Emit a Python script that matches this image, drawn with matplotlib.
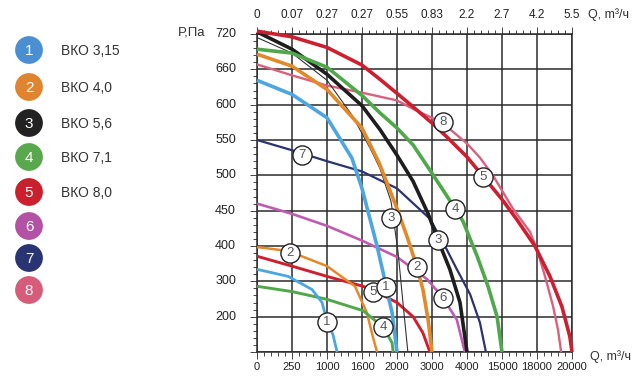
import matplotlib
matplotlib.use("Agg")
from matplotlib import pyplot as plt

# grid units: one cell of the chart = 1 (the axis is not linear, labels are per gridline)
x_labels = ['0', '250', '1000', '1600', '2000', '3000', '4000', '15000', '18000', '20000']
top_labels = ['0', '0.07', '0.27', '0.27', '0.55', '0.83', '2.2', '2.7', '4.2', '5.5']
y_labels = ['200', '300', '400', '450', '500', '550', '600', '660', '720']

legend_names = ['ВКО 3,15', 'ВКО 4,0', 'ВКО 5,6', 'ВКО 7,1', 'ВКО 8,0', '', '', '']
legend_colors = ['#4a8fd1', '#df8530', '#222222', '#5aa84e', '#c8202c', '#b352a4', '#283572', '#d65c7a']

# curves (grid units)
q1 = [0, 1, 2, 2.71, 3, 3.14, 3.43, 3.6, 3.69, 3.86, 4.0]
p1 = [7.69, 7.29, 6.63, 5.49, 4.63, 4.1, 3.0, 2.26, 1.83, 1.11, 0]
q1b = [0, 0.89, 1.57, 1.86, 2.0, 2.17, 2.29]
p1b = [2.34, 2.14, 1.77, 1.4, 0.86, 0.49, 0]
q2 = [0, 1, 2, 3, 3.49, 4, 4.31, 4.57, 4.74, 4.89, 5.0]
p2 = [8.43, 8.09, 7.43, 6.34, 5.35, 4.06, 3.2, 2.4, 1.77, 0.91, 0]
q2b = [0, 0.89, 2, 2.8, 3.14, 3.31, 3.43]
p2b = [2.97, 2.86, 2.43, 1.86, 1.11, 0.43, 0]
q3 = [0, 1, 2, 3, 3.51, 4, 4.46, 4.89, 5.17, 5.51, 5.8, 6.0]
p3 = [9.06, 8.57, 7.86, 6.97, 6.3, 5.57, 4.83, 3.91, 3.17, 2.34, 1.4, 0]
q3b = [0, 1, 2, 2.71, 3.23, 3.51, 3.83, 4.03, 4.17, 4.31]
p3b = [8.9, 8.46, 7.69, 6.71, 5.77, 5.2, 4.26, 2.83, 1.4, 0]
q4 = [0, 1, 2, 3, 3.51, 4, 4.46, 5, 5.66, 5.89, 6.29, 6.6, 6.86, 7.0]
p4 = [8.57, 8.46, 8.06, 7.26, 6.77, 6.34, 5.86, 5.06, 4.06, 3.69, 2.71, 1.86, 1.0, 0]
q4b = [0, 1, 2, 3.03, 3.6, 3.86, 3.89]
p4b = [1.86, 1.71, 1.49, 1.17, 0.71, 0.26, 0]
q5 = [0, 1, 2, 3, 3.51, 4, 4.46, 5, 5.43, 6, 6.46, 7, 7.43, 7.94, 8.37, 8.71, 8.94, 9.0]
p5 = [9.08, 8.92, 8.62, 8.12, 7.72, 7.32, 6.94, 6.48, 6.08, 5.52, 4.97, 4.32, 3.74, 3.0, 2.14, 1.29, 0.43, 0]
q5b = [0, 1, 2, 3.03, 3.43, 4, 4.46, 4.74, 4.94]
p5b = [2.71, 2.43, 2.14, 1.86, 1.69, 1.4, 1.0, 0.54, 0]
q6 = [0, 1, 2, 3.03, 4, 4.86, 5.31, 5.71, 5.94]
p6 = [4.2, 3.91, 3.57, 3.14, 2.69, 2.06, 1.54, 0.91, 0]
q7 = [0, 1, 2, 3, 4, 4.94, 5.37, 5.71, 6.09, 6.37, 6.54]
p7 = [6.0, 5.71, 5.4, 5.11, 4.63, 3.77, 3.0, 2.34, 1.63, 0.83, 0]
q8 = [0, 1, 2, 3, 4, 4.46, 5.29, 6, 6.37, 6.74, 7.0, 7.31, 7.8, 8.0, 8.23, 8.46, 8.6, 8.69]
p8 = [8.14, 7.83, 7.54, 7.34, 7.12, 6.88, 6.49, 5.9, 5.5, 5.0, 4.57, 4.06, 3.4, 2.9, 2.14, 1.29, 0.63, 0]

# numbered markers on the curves
mark_text = ['8', '5', '7', '4', '3', '3', '2', '2', '6', '5', '1', '1', '4']
mark_q = [5.31, 6.46, 1.29, 5.66, 3.83, 5.17, 0.94, 4.57, 5.31, 3.31, 3.69, 2.0, 3.6]
mark_p = [6.51, 4.94, 5.57, 4.06, 3.8, 3.17, 2.8, 2.4, 1.54, 1.69, 1.83, 0.86, 0.71]

narrow = ['Liberation Sans Narrow', 'Liberation Sans', 'DejaVu Sans']
tick_font = ['Liberation Sans', 'DejaVu Sans']

fig = plt.figure(figsize=(6.4, 3.91), dpi=100)
ax = fig.add_axes([257/640, 1 - 352/391, 315/640, 318/391])

grid_c = '#2b2b2b'
ax.set_xlim(0, 9)
ax.set_ylim(0, 9)
ax.set_xticks(range(10))
ax.set_yticks(range(10))
ax.set_xticks([i/5 for i in range(46)], minor=True)
ax.set_yticks([i/5 for i in range(46)], minor=True)
ax.grid(True, which='major', color=grid_c, lw=1.1, zorder=1)
ax.tick_params(which='both', direction='out', top=True, bottom=True, left=True, right=False,
               labelbottom=False, labeltop=False, labelleft=False, color='#444444', width=0.7)
ax.tick_params(which='major', length=5)
ax.tick_params(which='minor', length=3)
for s in ax.spines.values():
    s.set_color(grid_c)
    s.set_linewidth(1.1)

lines = [
    (q6, p6, '#bf5cb0', 1.9),
    (q7, p7, '#2b3373', 1.6),
    (q5b, p5b, '#cc1f2f', 2.1),
    (q2b, p2b, '#e4892a', 1.8),
    (q4b, p4b, '#4fa84a', 2.1),
    (q1b, p1b, '#4da6e0', 2.0),
    (q8, p8, '#d9607f', 1.7),
    (q3b, p3b, '#333333', 0.8),
    (q1, p1, '#4da6e0', 2.6),
    (q2, p2, '#e4892a', 2.6),
    (q3, p3, '#1e1e1e', 2.6),
    (q4, p4, '#4fa84a', 2.6),
    (q5, p5, '#cc1f2f', 2.6),
]
for q, p, c, lw in lines:
    ax.plot(q, p, color=c, lw=lw, solid_capstyle='butt', solid_joinstyle='round', zorder=3, clip_on=False)

ax.scatter(mark_q, mark_p, s=190, facecolor='white', edgecolor='#222222', linewidth=1.0, zorder=5, clip_on=False)
for t, q, p in zip(mark_text, mark_q, mark_p):
    ax.text(q, p, t, ha='center', va='center', fontsize=9.5, color='#555555', family=narrow, zorder=6)

# tick labels, one per gridline
for i in range(10):
    ax.text(i, -0.43, x_labels[i], ha='center', va='center', fontsize=8, color='#222222', family=tick_font)
    ax.text(i, 9.54, top_labels[i], ha='center', va='center', fontsize=8.5, color='#222222', family=tick_font)
for i in range(9):
    ax.text(-0.6, i + 1, y_labels[i], ha='right', va='center', fontsize=9, color='#222222', family=tick_font)

ax.text(9.45, 9.54, 'Q, m³/ч', ha='left', va='center', fontsize=9, color='#333333', family=tick_font)
ax.text(9.5, -0.13, 'Q, m³/ч', ha='left', va='center', fontsize=9, color='#333333', family=tick_font)
ax.text(-1.48, 9.05, 'P,Па', ha='right', va='center', fontsize=9.5, color='#333333', family=tick_font)

# legend on the left
lg = fig.add_axes([0, 0, 1, 1], facecolor='none')
lg.set_xlim(0, 640)
lg.set_ylim(391, 0)
lg.axis('off')
leg_y = [50, 87, 123, 157, 192, 226, 258, 290]
lg.scatter([29] * 8, leg_y, s=400, color=legend_colors, linewidth=0, zorder=2)
for i in range(8):
    lg.text(29, leg_y[i] + 1, str(i + 1), ha='center', va='center', fontsize=11, color='white', family=narrow, zorder=3)
    if legend_names[i]:
        lg.text(61, leg_y[i] + 1, legend_names[i], ha='left', va='center', fontsize=10,
                color='#333333', family=narrow)

fig.savefig('out.png', dpi=100)
